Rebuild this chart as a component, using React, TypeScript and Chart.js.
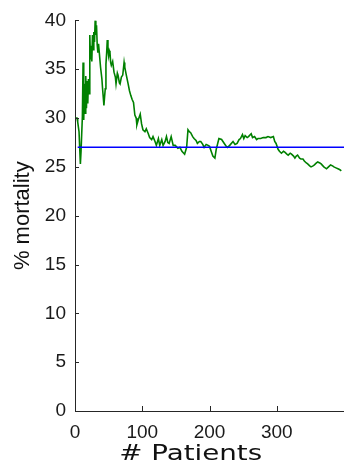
import React, { useEffect, useRef } from "react";
import { Chart, registerables } from "chart.js";

Chart.register(...registerables);

// Running mortality (%) after each enrolled patient
const patients = [
  1, 3, 4, 6, 8, 9, 11, 12, 13, 14, 15, 16, 17, 18, 19, 20, 21, 22, 23, 24,
  25, 26, 27, 28, 29, 30, 31, 32, 33, 34, 35, 37, 38, 40, 41, 43, 44, 45, 46, 47,
  48, 49, 50, 51, 52, 53, 54, 56, 58, 60, 61, 63, 64, 66, 67, 69, 71, 73, 74, 76,
  79, 81, 83, 85, 87, 89, 91, 92, 94, 97, 99, 101, 104, 106, 109, 111, 114, 116, 119, 121,
  124, 126, 129, 131, 134, 136, 138, 140, 143, 146, 149, 153, 156, 159, 163, 166, 168, 170, 172, 175,
  177, 180, 182, 185, 187, 190, 192, 195, 198, 200, 203, 205, 208, 210, 214, 218, 222, 225, 227, 230,
  235, 238, 241, 244, 246, 249, 251, 253, 256, 258, 262, 264, 267, 270, 272, 276, 280, 284, 287, 291,
  295, 297, 299, 302, 304, 307, 310, 312, 315, 317, 320, 322, 325, 327, 329, 331, 334, 336, 339, 341,
  344, 346, 349, 351, 354, 356, 359, 361, 364, 366, 370, 374, 377, 380, 383, 385, 388, 391, 394, 396,
];

const mortality = [
  30.0, 30.0, 29.6, 28.6, 25.3, 26.6, 30.2, 35.7, 29.8, 33.5, 30.5, 34.3, 31.0, 33.8, 31.5, 34.0, 32.5, 38.5, 36.0, 37.4,
  35.8, 38.5, 37.0, 38.8, 37.8, 40.0, 38.5, 39.5, 37.5, 36.7, 37.6, 36.0, 35.2, 34.0, 33.0, 31.3, 32.2, 33.0, 35.5, 36.6,
  38.0, 37.0, 36.4, 36.9, 36.7, 35.7, 35.4, 35.8, 34.7, 34.2, 33.5, 34.6, 34.4, 33.6, 33.5, 34.2, 34.4, 35.7, 35.2, 34.5,
  33.5, 32.8, 32.3, 31.9, 31.6, 30.3, 30.0, 29.3, 29.8, 30.4, 29.4, 28.8, 28.6, 28.9, 28.4, 28.0, 27.8, 28.1, 27.6, 27.2,
  27.9, 27.2, 27.8, 27.2, 27.6, 28.1, 27.5, 27.4, 28.1, 27.2, 27.2, 26.9, 27.0, 26.6, 26.3, 27.0, 28.8, 28.6, 28.5, 28.1,
  27.9, 27.7, 27.4, 27.6, 27.6, 27.3, 27.0, 27.3, 27.2, 27.1, 26.5, 26.1, 25.9, 26.8, 27.9, 27.8, 27.4, 27.1, 27.0, 27.2,
  27.6, 27.3, 27.4, 27.8, 27.9, 28.3, 27.9, 28.2, 28.0, 28.1, 28.4, 28.0, 28.1, 27.8, 27.9, 27.9, 28.0, 28.0, 28.1, 28.0,
  28.1, 27.6, 27.4, 26.8, 26.6, 26.4, 26.6, 26.5, 26.3, 26.2, 26.4, 26.3, 26.1, 25.9, 26.1, 26.2, 25.9, 25.8, 25.8, 25.6,
  25.4, 25.3, 25.1, 25.0, 25.1, 25.2, 25.4, 25.5, 25.4, 25.3, 25.0, 24.8, 25.0, 25.2, 25.1, 25.0, 24.9, 24.8, 24.7, 24.6,
];

// Reference mortality level
const referencePatients = [4, 400];
const referenceMortality = [27, 27];

const xTickValues = [0, 100, 200, 300];
const yTickValues = [0, 5, 10, 15, 20, 25, 30, 35, 40];

const X_TITLE = "# Patients";
const Y_TITLE = "% mortality";
const AXIS_COLOR = "#262626";

// Short tick marks pointing into the plot area, plus the stretched x-axis title
const innerTicks = {
  id: "innerTicks",
  afterDraw(chart: any) {
    const { ctx, chartArea, scales } = chart;
    ctx.save();
    ctx.strokeStyle = AXIS_COLOR;
    ctx.lineWidth = 1;
    ctx.beginPath();
    for (const v of yTickValues) {
      const py = Math.round(scales.y.getPixelForValue(v)) + 0.5;
      ctx.moveTo(chartArea.left, py);
      ctx.lineTo(chartArea.left + 4, py);
    }
    for (const v of xTickValues) {
      const px = Math.round(scales.x.getPixelForValue(v)) + 0.5;
      ctx.moveTo(px, chartArea.bottom);
      ctx.lineTo(px, chartArea.bottom - 5);
    }
    ctx.stroke();

    ctx.fillStyle = "#111";
    ctx.font = "21px 'DejaVu Sans'";
    ctx.textAlign = "center";
    ctx.textBaseline = "alphabetic";
    const cx = scales.x.getPixelForValue(172);
    const natural = ctx.measureText(X_TITLE).width;
    const sx = 143 / natural;
    ctx.translate(cx, chartArea.bottom + 49);
    ctx.scale(sx, 1);
    ctx.fillText(X_TITLE, 0, 0);
    ctx.restore();
  },
};

export default function App() {
  const canvasRef = useRef<HTMLCanvasElement | null>(null);

  useEffect(() => {
    if (!canvasRef.current) return;
    const chart = new Chart(canvasRef.current, {
      type: "line",
      data: {
        datasets: [
          {
            label: "reference",
            data: referencePatients.map((p, i) => ({ x: p, y: referenceMortality[i] })),
            borderColor: "#0000ff",
            borderWidth: 1.5,
            pointRadius: 0,
            tension: 0,
          },
          {
            label: "mortality",
            data: patients.map((p, i) => ({ x: p, y: mortality[i] })),
            borderColor: "#008000",
            borderWidth: 1.6,
            pointRadius: 0,
            tension: 0,
          },
        ],
      },
      options: {
        animation: false,
        responsive: false,
        events: [],
        layout: { padding: { top: 18, right: 0, left: 0, bottom: 0 } },
        plugins: {
          legend: { display: false },
          tooltip: { enabled: false },
        },
        scales: {
          x: {
            type: "linear",
            min: 0,
            max: 400,
            afterBuildTicks: (scale: any) => {
              scale.ticks = xTickValues.map((v) => ({ value: v }));
            },
            afterFit: (scale: any) => {
              scale.height = 56;
            },
            grid: { display: true, drawOnChartArea: false, drawTicks: false },
            border: { display: true, color: AXIS_COLOR, width: 1 },
            ticks: {
              padding: 10,
              color: "#1a1a1a",
              font: { family: "'Liberation Sans', Arial, sans-serif", size: 19 },
              maxRotation: 0,
            },
          },
          y: {
            type: "linear",
            min: 0,
            max: 40,
            afterBuildTicks: (scale: any) => {
              scale.ticks = yTickValues.map((v) => ({ value: v }));
            },
            afterFit: (scale: any) => {
              scale.width = 75;
            },
            grid: { display: true, drawOnChartArea: false, drawTicks: false },
            border: { display: true, color: AXIS_COLOR, width: 1 },
            ticks: {
              padding: 9,
              color: "#1a1a1a",
              font: { family: "'Liberation Sans', Arial, sans-serif", size: 19 },
            },
            title: {
              display: true,
              text: Y_TITLE,
              color: "#111",
              padding: { top: 10, bottom: 0 },
              font: { family: "'Liberation Sans', Arial, sans-serif", size: 22 },
            },
          },
        },
      },
      plugins: [innerTicks],
    });
    return () => chart.destroy();
  }, []);

  return (
    <div style={{ position: "absolute", left: 0, top: 0, width: 344, height: 467, background: "#fff" }}>
      <canvas ref={canvasRef} width={344} height={467} style={{ display: "block" }} />
    </div>
  );
}
